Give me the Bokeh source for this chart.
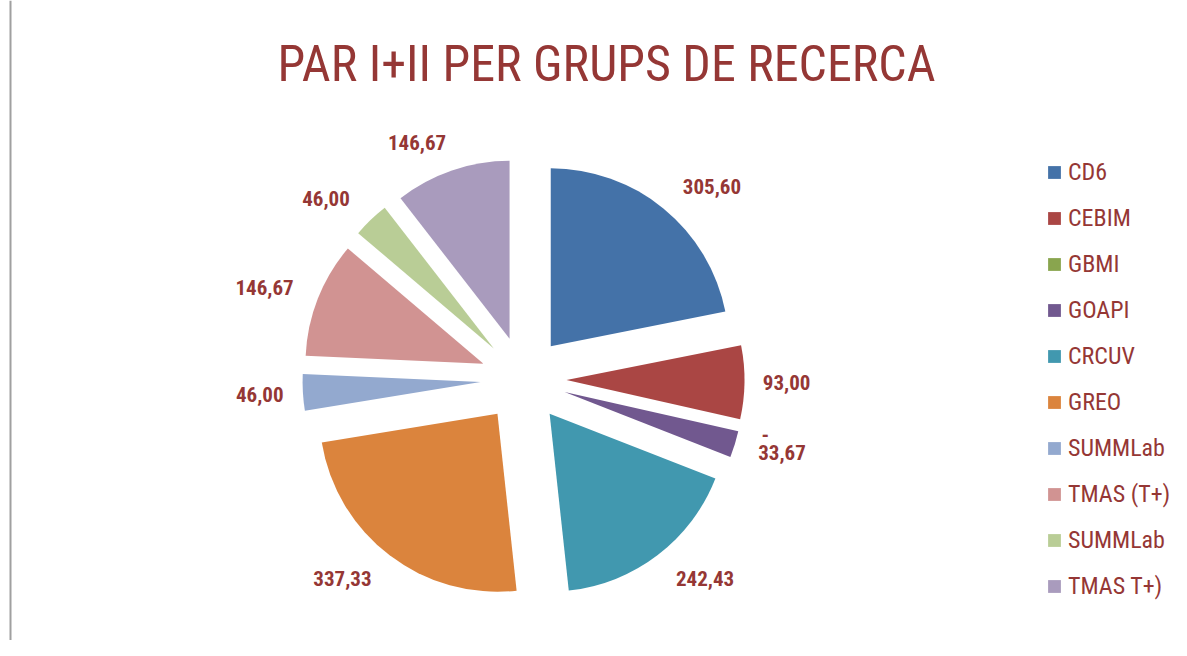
import math
from bokeh.plotting import figure
from bokeh.models import Range1d, Label, LegendItem, Legend, Span, ColumnDataSource
from bokeh.core.properties import value, field
from bokeh.embed import file_html
from bokeh.resources import INLINE

# ---- data ----
chart_title = "PAR I+II PER GRUPS DE RECERCA"
groups = ["CD6", "CEBIM", "GBMI", "GOAPI", "CRCUV", "GREO",
          "SUMMLab", "TMAS (T+)", "SUMMLab", "TMAS T+)"]
amounts = [305.60, 93.00, 0.00, 33.67, 242.43, 337.33, 46.00, 146.67, 46.00, 146.67]
colors = ["#4472A8", "#AA4644", "#89A54E", "#71588F", "#4198AF", "#DB843D",
          "#93A9CF", "#D19392", "#B9CD96", "#A99BBD"]

# ---- layout (picture pixels, y measured downward) ----
W, H = 1171, 640
FONT = "Roboto Condensed, DejaVu Sans Condensed, sans-serif"
TXT = "#953735"
cx, cy_ref = 523, 379
R = 178
explode = 43
label_r = 250

def up(y_ref):
    return H - y_ref

total = sum(amounts)
starts, ends, xs, ys, rads, lx, ly, aligns, texts = [], [], [], [], [], [], [], [], []
acc = 0.0
for v in amounts:
    t1 = acc / total * 360.0
    acc += v
    t2 = acc / total * 360.0
    tm = math.radians((t1 + t2) / 2.0)
    starts.append(math.radians(90.0 - t1))
    ends.append(math.radians(90.0 - t2))
    xs.append(cx + explode * math.sin(tm))
    ys.append(up(cy_ref) + explode * math.cos(tm))
    rads.append(R if v > 0 else 0)
    s = 1 if math.sin(tm) >= 0 else -1
    gap = -11 + 12 * abs(math.sin(2 * tm))
    lx.append(cx + label_r * math.sin(tm) + gap * s)
    ly.append(up(cy_ref) + label_r * math.cos(tm))
    aligns.append("left" if s > 0 else "right")
    texts.append("-" if v == 0 else f"{v:.2f}".replace(".", ","))

src = ColumnDataSource(dict(x=xs, y=ys, r=rads, start=starts, end=ends,
                            color=colors, name=groups))
lsrc = ColumnDataSource(dict(x=lx, y=ly, text=texts, align=aligns))

p = figure(width=W, height=H, output_backend="svg", toolbar_location=None,
           x_range=Range1d(0, W), y_range=Range1d(0, H),
           x_axis_type=None, y_axis_type=None, min_border=0,
           outline_line_color=None)
p.grid.visible = False

wr = p.wedge(x="x", y="y", radius="r", start_angle="start", end_angle="end",
             direction="clock", fill_color="color", line_color=None, source=src)

p.text(x="x", y="y", text="text", source=lsrc, text_align=field("align"),
       text_baseline="middle", text_font=value(FONT), text_font_size="21px",
       text_font_style="bold", text_color=TXT)

p.add_layout(Label(x=606, y=up(63), text=chart_title, text_align="center",
                   text_baseline="alphabetic", text_font=FONT,
                   text_font_size="50px", text_color=TXT))

p.add_layout(Span(location=10, dimension="height", line_color="#A0A0A0",
                  line_width=2))

items = [LegendItem(label=g, renderers=[wr], index=i) for i, g in enumerate(groups)]
legend = Legend(items=items, location=(1046, 39), orientation="vertical",
                glyph_width=16, glyph_height=16, label_standoff=6,
                label_height=30, spacing=16, padding=0, margin=0,
                label_text_font=FONT, label_text_font_size="24px",
                label_text_color=TXT, border_line_color=None,
                background_fill_alpha=0)
p.add_layout(legend)

open("out.html", "w").write(file_html(p, INLINE))
